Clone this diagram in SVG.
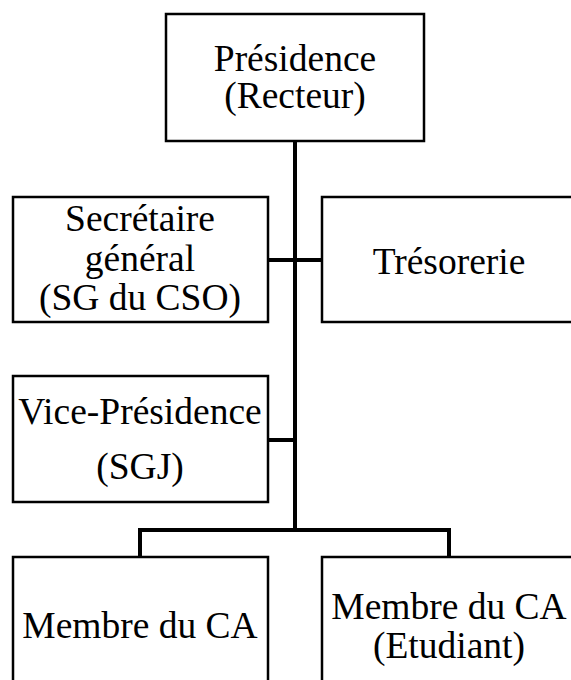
<svg xmlns="http://www.w3.org/2000/svg" width="571" height="680" viewBox="0 0 571 680">
<style>
.box{fill:#fff;stroke:#000;stroke-width:2.5}
.t{font-family:"Liberation Serif","Times New Roman",serif;font-size:37.5px;fill:#000;text-anchor:middle}
.c{fill:none;stroke:#000;stroke-width:4}
</style>
<rect width="571" height="680" fill="#fff"/>
<g id="connectors">
<line class="c" x1="295" y1="141" x2="295" y2="530"/>
<line class="c" x1="268" y1="260" x2="322" y2="260"/>
<line class="c" x1="268" y1="440" x2="295" y2="440"/>
<polyline class="c" points="140,557 140,530 449,530 449,557"/>
</g>
<g id="presidence">
<rect class="box" x="166" y="14" width="258" height="127"/>
<text class="t" x="295" y="71">Présidence</text>
<text class="t" x="295" y="108">(Recteur)</text>
</g>
<g id="secretaire">
<rect class="box" x="13" y="197" width="255" height="125"/>
<text class="t" x="140" y="231">Secrétaire</text>
<text class="t" x="140" y="271">général</text>
<text class="t" x="140" y="310">(SG du CSO)</text>
</g>
<g id="tresorerie">
<rect class="box" x="322" y="197" width="252" height="125"/>
<text class="t" x="449" y="274">Trésorerie</text>
</g>
<g id="vice">
<rect class="box" x="13" y="376" width="255" height="126"/>
<text class="t" x="140" y="424">Vice-Présidence</text>
<text class="t" x="140" y="479">(SGJ)</text>
</g>
<g id="membre1">
<rect class="box" x="13" y="557" width="255" height="130"/>
<text class="t" x="140" y="638">Membre du CA</text>
</g>
<g id="membre2">
<rect class="box" x="322" y="557" width="252" height="130"/>
<text class="t" x="449" y="619">Membre du CA</text>
<text class="t" x="449" y="658">(Etudiant)</text>
</g>
</svg>
